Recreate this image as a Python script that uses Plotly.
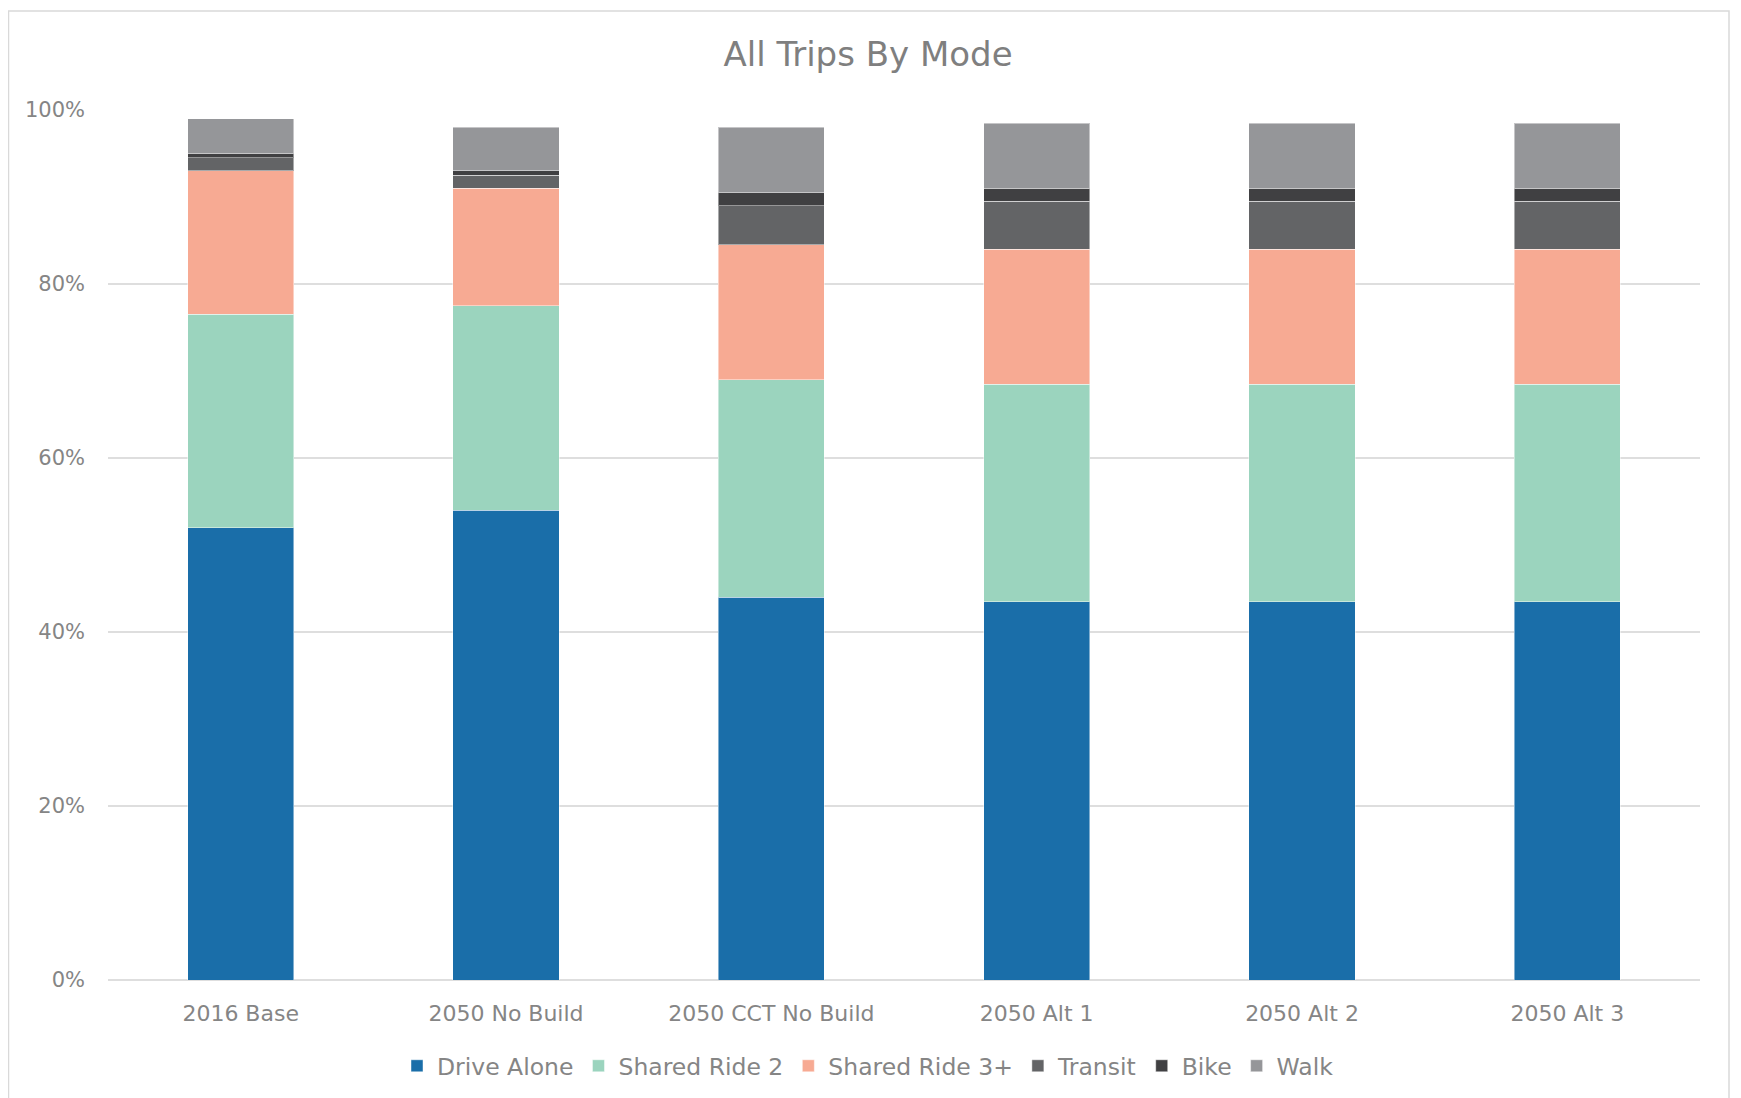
import plotly.graph_objects as go

categories = ["2016 Base", "2050 No Build", "2050 CCT No Build", "2050 Alt 1", "2050 Alt 2", "2050 Alt 3"]
drive_alone = [0.52, 0.54, 0.44, 0.435, 0.435, 0.435]
shared_ride_2 = [0.245, 0.235, 0.25, 0.25, 0.25, 0.25]
shared_ride_3 = [0.165, 0.135, 0.155, 0.155, 0.155, 0.155]
transit = [0.015, 0.015, 0.045, 0.055, 0.055, 0.055]
bike = [0.005, 0.005, 0.015, 0.015, 0.015, 0.015]
walk = [0.04, 0.05, 0.075, 0.075, 0.075, 0.075]

series = [
    ("Drive Alone", drive_alone, "#1a6ea9"),
    ("Shared Ride 2", shared_ride_2, "#9bd4be"),
    ("Shared Ride 3+", shared_ride_3, "#f7aa93"),
    ("Transit", transit, "#636466"),
    ("Bike", bike, "#404042"),
    ("Walk", walk, "#959699"),
]

FONT = "DejaVu Sans"
GREY = "#858585"

fig = go.Figure()
for name, vals, color in series:
    fig.add_trace(go.Bar(
        name=name, x=categories, y=vals,
        marker=dict(color=color, line=dict(color="rgba(255,255,255,0.45)", width=1)),
    ))

# page body has an 8px offset; positions below are in figure coordinates
fig.update_layout(
    barmode="stack",
    bargap=0.6,
    width=1741, height=1098,
    paper_bgcolor="white", plot_bgcolor="white",
    margin=dict(l=100, r=49, t=102, b=126),
    font=dict(family=FONT, color=GREY, size=21),
    title=dict(text="All Trips By Mode", x=860 / 1741, xanchor="center", xref="container",
               y=1 - 46 / 1098, yanchor="middle", yref="container",
               font=dict(family=FONT, size=34, color="#7f7f7f")),
    legend=dict(orientation="h", x=860 / 1741, xanchor="center", xref="container",
                y=1 - 1058 / 1098, yanchor="middle", yref="container",
                font=dict(size=23.5, color=GREY),
                traceorder="normal", itemwidth=30),
    showlegend=True,
)
fig.update_yaxes(range=[0, 1], tickvals=[0, 0.2, 0.4, 0.6, 0.8, 1.0],
                 tickformat=".0%", showgrid=True, gridcolor="#dedede", gridwidth=1.5,
                 zeroline=True, zerolinecolor="#dedede", zerolinewidth=1.5,
                 showline=False, ticklabelstandoff=22, tickfont=dict(size=21, color=GREY))
fig.update_xaxes(showgrid=False, showline=False, ticklabelstandoff=18,
                 tickfont=dict(size=22, color=GREY))

fig.add_shape(type="rect", xref="paper", yref="paper",
              x0=(0.5 - 100) / 1592, x1=(1721 - 100) / 1592,
              y0=(972 - 1097) / 870, y1=(972 - 3) / 870,
              line=dict(color="#d9d9d9", width=1.5), fillcolor="rgba(0,0,0,0)", layer="below")

fig.write_html("out.html")
